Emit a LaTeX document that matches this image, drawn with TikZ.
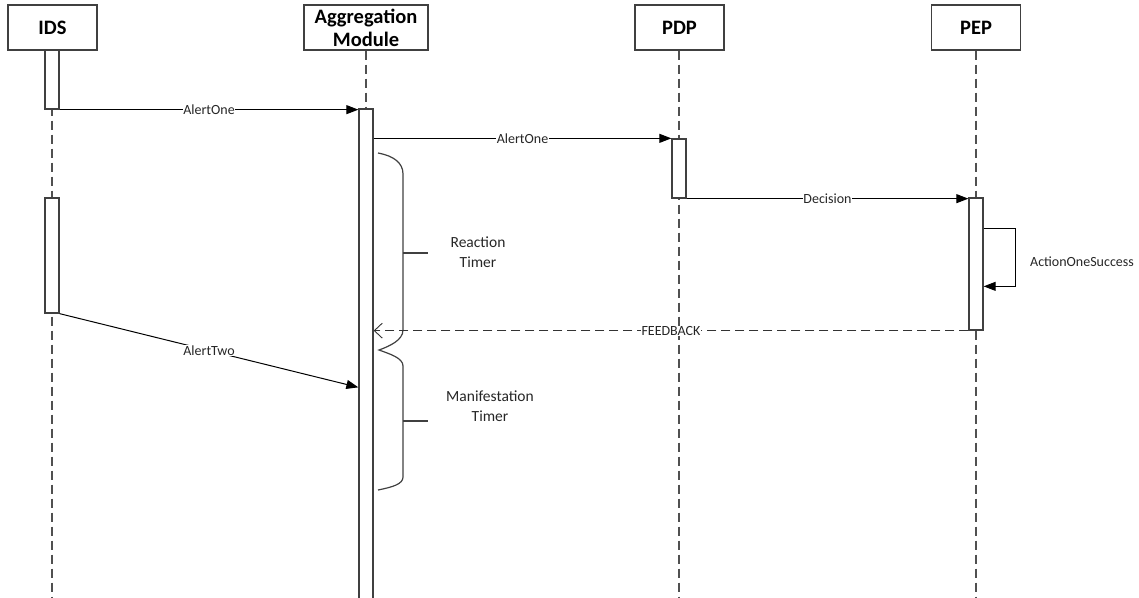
\documentclass[tikz,border=0pt]{standalone}
\usepackage{fontspec}
\setmainfont{Carlito}
\usetikzlibrary{arrows.meta,calc}
\definecolor{edge}{HTML}{404040}
\definecolor{life}{HTML}{505050}
\tikzset{
  head/.style={draw=edge, line width=1.3pt, fill=white, minimum width=89pt, minimum height=45pt,
    inner sep=0pt, align=center, font=\fontsize{20.5}{23}\selectfont\bfseries},
  lifeline/.style={draw=life, line width=1.1pt, dash pattern=on 9pt off 5pt},
  act/.style={draw=edge, line width=1.3pt, fill=white, minimum width=14pt, inner sep=0pt},
  msg/.style={draw=black, line width=1pt, -{Triangle[length=12pt,width=9pt]}},
  reply/.style={draw=black!80, line width=1pt, dash pattern=on 9pt off 5pt,
    -{Straight Barb[length=8pt,width=15pt,line width=0.9pt]}},
  lbl/.style={fill=white, inner sep=0.5pt, font=\fontsize{14}{16}\selectfont, text=black!85},
  note/.style={align=center, font=\fontsize{15.5}{20}\selectfont, text=black!85},
  brace/.style={draw=edge, line width=1.2pt}
}
\begin{document}
\begin{tikzpicture}[x=1pt,y=-1pt]
\useasboundingbox (0,0) rectangle (1139,597);

% participants
\node[head] (ids) at (52.5,27.5) {IDS};
\node[head, minimum width=124pt] (agm) at (366,27.5) {Aggregation\\Module};
\node[head] (pdp) at (679.5,27.5) {PDP};
\node[head] (pep) at (976,27.5) {PEP};

% lifeline ends
\coordinate (idsend) at (52,597);
\coordinate (agmend) at (366,597);
\coordinate (pdpend) at (679,597);
\coordinate (pepend) at (976,597);
\draw[lifeline] (ids.south -| idsend) -- (idsend);
\draw[lifeline] (agm.south -| agmend) -- (agmend);
\draw[lifeline] (pdp.south -| pdpend) -- (pdpend);
\draw[lifeline] (pep.south -| pepend) -- (pepend);

% activations
\node[act, minimum height=59pt] (ida) at (52,79.5) {};
\node[act, minimum height=115pt] (idb) at (52,255.5) {};
\node[act, minimum height=490pt] (agact) at (366,354) {};
\node[act, minimum height=59pt] (pdact) at (679,168.5) {};
\node[act, minimum height=132pt] (peact) at (976,264) {};

% timer braces
\draw[brace] (378,153) .. controls (394,156) and (403,163) .. (403,174)
  -- (403,330) .. controls (403,340) and (390,346) .. (379,350)
  .. controls (390,354) and (403,358) .. (403,366)
  -- (403,477) .. controls (403,484) and (393,487) .. (378,490);
\draw[brace] (403,253) -- (428,253);
\draw[brace] (403,421) -- (428,421);
\node[note] (rt) at (478,252) {Reaction\\Timer};
\node[note] (mt) at (490,406) {Manifestation\\Timer};

% messages
\draw[msg] (ida.south east) -- node[lbl] {AlertOne} (ida.south east -| agact.west);
\draw[msg] (agact.east |- pdact.north) -- node[lbl] {AlertOne} (pdact.north west);
\draw[msg] (pdact.south east) -- node[lbl] {Decision} (pdact.south -| peact.west);
\draw[msg] ($(peact.north east)+(0,31)$) -- ++(32,0) -- ++(0,58) -- ($(peact.north east)+(0,89)$);
\node[lbl, fill=none] (aos) at (1082,262) {ActionOneSuccess};
\draw[reply] (peact.south west) -- node[lbl] {FEEDBACK} (peact.south -| agact.east);
\draw[msg] (idb.south east) -- node[lbl] {AlertTwo} ($(agact.north west)+(0,279)$);
\end{tikzpicture}
\end{document}
